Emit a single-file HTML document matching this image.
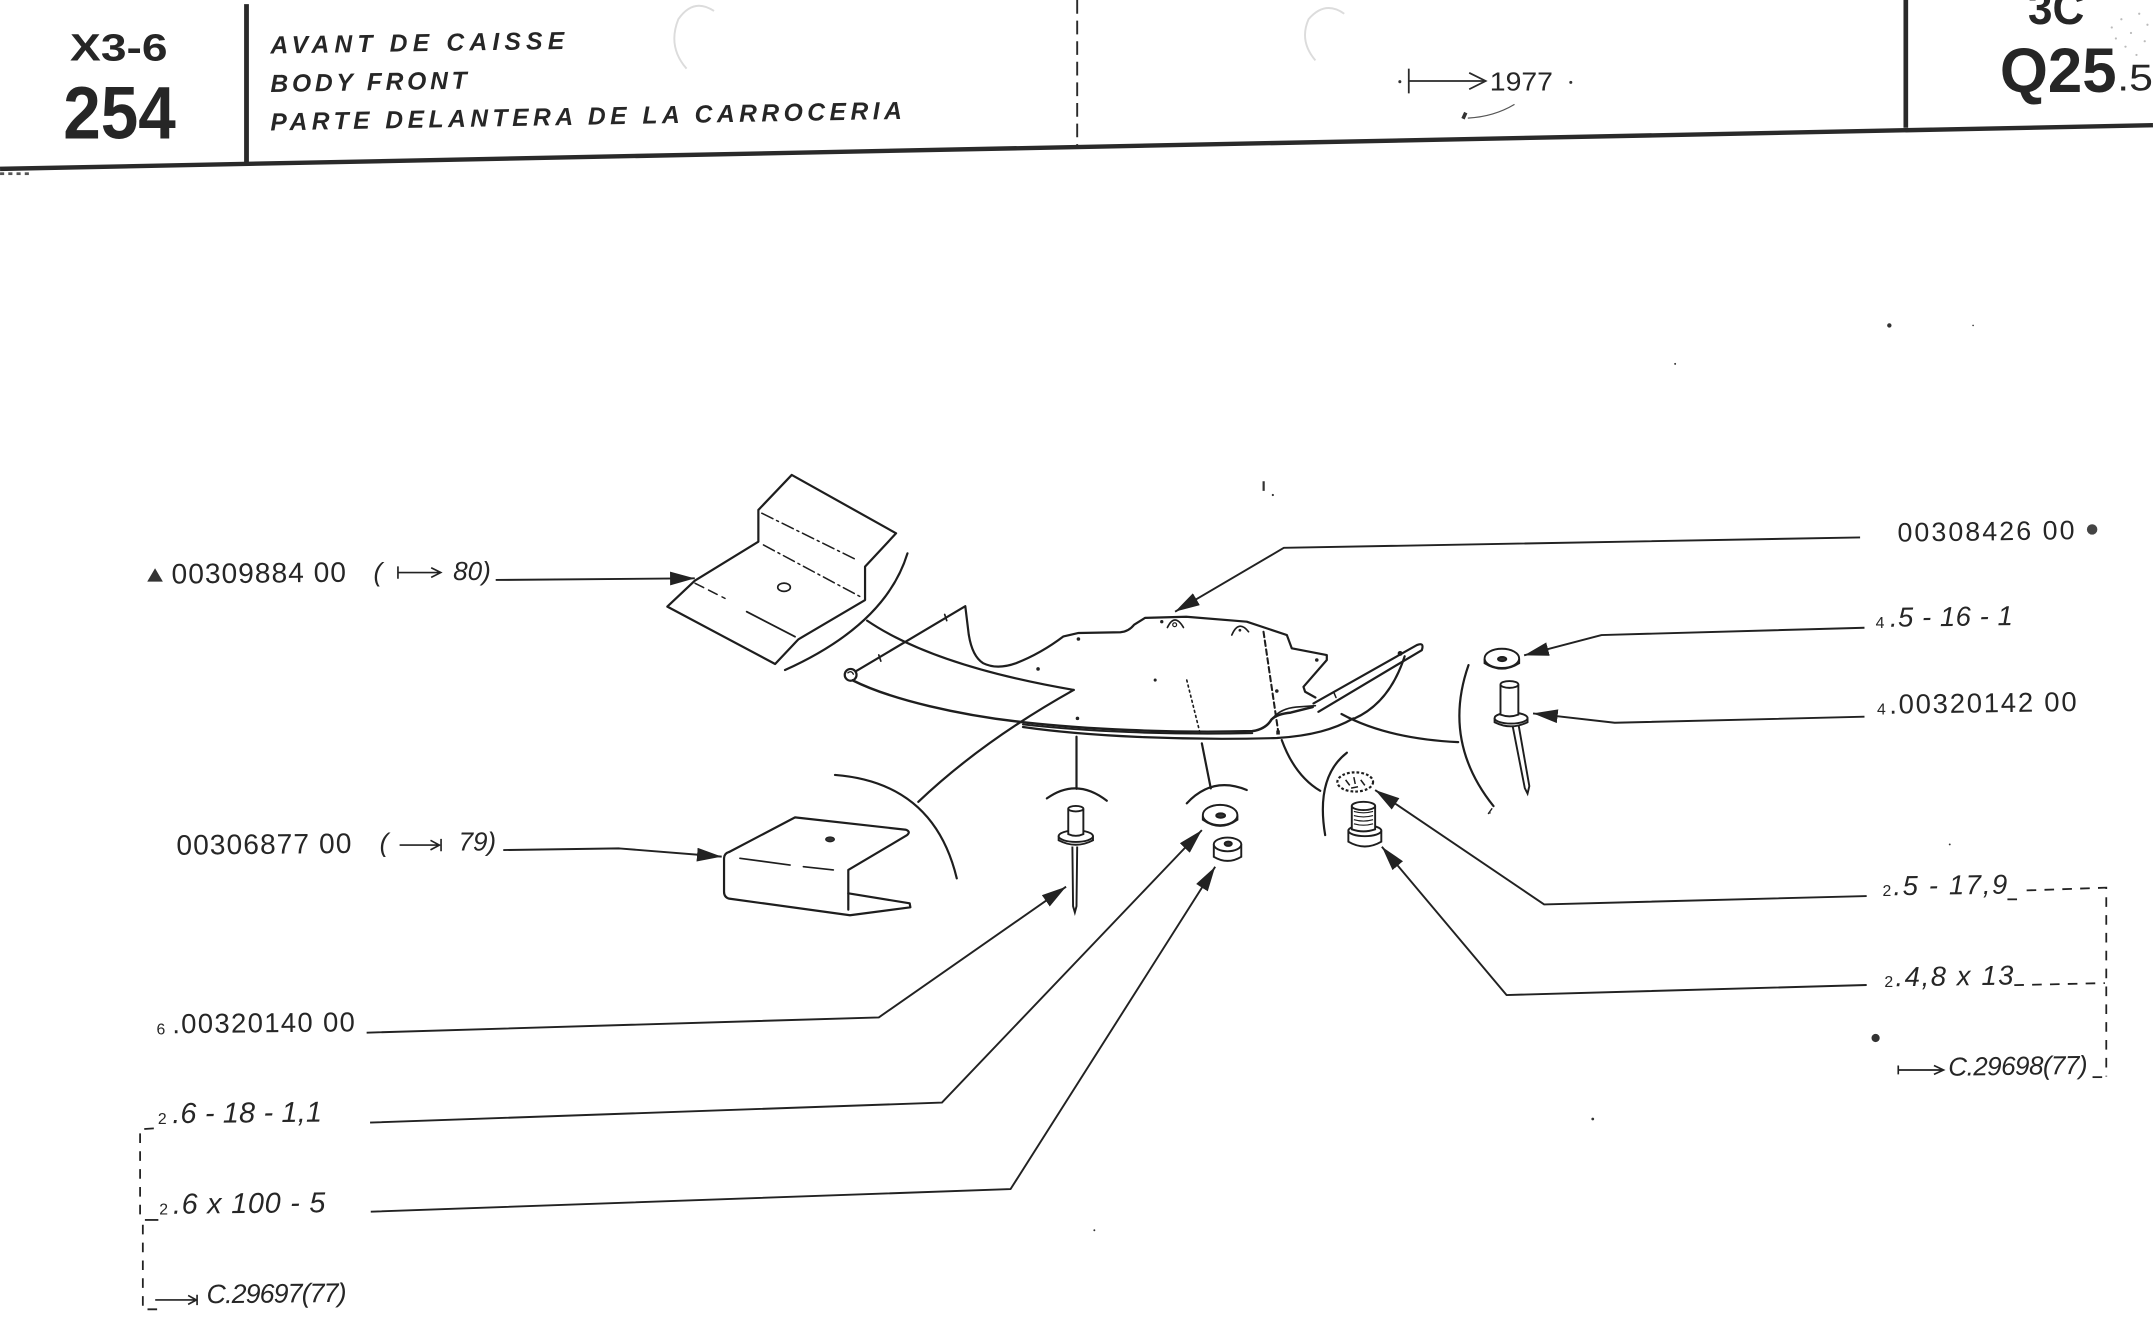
<!DOCTYPE html>
<html>
<head>
<meta charset="utf-8">
<style>
  html,body{margin:0;padding:0;background:#fff;}
  svg{display:block;}
  text{font-family:"Liberation Sans",Arial,sans-serif;fill:#262626;}
</style>
</head>
<body>
<svg xmlns="http://www.w3.org/2000/svg" width="2153" height="1335" viewBox="0 0 1568 972.3">
<defs>
  <marker id="ah" viewBox="0 0 18 10" refX="18" refY="5" markerWidth="18" markerHeight="10" markerUnits="userSpaceOnUse" orient="auto">
    <path d="M0,0 L18,5 L0,10 Z" fill="#222"/>
  </marker>
</defs>
<rect x="0" y="0" width="1568" height="972.3" fill="#fff"/>

<!-- faint punch-hole rings -->
<path d="M520,8 Q505,-2 494,14 Q486,34 500,50" fill="none" stroke="#dcdcdc" stroke-width="1.4"/>
<path d="M979,10 Q965,0 953,14 Q946,30 958,44" fill="none" stroke="#dcdcdc" stroke-width="1.4"/>

<!-- ===== HEADER ===== -->
<g stroke="#2a2a2a" fill="none">
  <line x1="0" y1="123" x2="1568" y2="91.2" stroke-width="3.2"/>
  <line x1="179.5" y1="3" x2="179.5" y2="120" stroke-width="3.5"/>
  <line x1="784.5" y1="0" x2="784.5" y2="106" stroke-width="1.4" stroke-dasharray="10 5"/>
  <line x1="1388" y1="0" x2="1388" y2="93" stroke-width="3.4"/>
</g>
<g fill="#555">
  <rect x="0" y="125.5" width="3" height="2"/><rect x="6" y="125.5" width="3" height="2"/><rect x="12" y="125.5" width="3" height="2"/><rect x="18" y="125.5" width="3" height="2"/>
</g>

<text x="51" y="44" font-size="28" font-weight="bold" textLength="71" lengthAdjust="spacingAndGlyphs">X3-6</text>
<text x="46" y="101" font-size="54" font-weight="bold" textLength="82" lengthAdjust="spacingAndGlyphs">254</text>

<text x="197" y="39" font-size="18" font-weight="bold" font-style="italic" textLength="214" lengthAdjust="spacing" transform="rotate(-0.9 197 39)">AVANT DE CAISSE</text>
<text x="197" y="67" font-size="18" font-weight="bold" font-style="italic" textLength="143" lengthAdjust="spacing" transform="rotate(-1 197 67)">BODY FRONT</text>
<text x="197" y="95" font-size="18" font-weight="bold" font-style="italic" textLength="460" lengthAdjust="spacing" transform="rotate(-1.05 197 95)">PARTE DELANTERA DE LA CARROCERIA</text>

<!-- |--> 1977 -->
<circle cx="1019.5" cy="59.5" r="1.1" fill="#333"/>
<g stroke="#2a2a2a" fill="none" stroke-width="1.3">
  <line x1="1026" y1="50" x2="1026" y2="68"/>
  <line x1="1026" y1="59" x2="1081" y2="59"/>
  <path d="M1070,53 L1082,59 L1070,65"/>
</g>
<text x="1085" y="66" font-size="19" textLength="46" lengthAdjust="spacingAndGlyphs">1977</text>
<circle cx="1144" cy="60" r="1.1" fill="#333"/>
<path d="M1065.5,86.5 L1067.5,82" stroke="#333" stroke-width="2.6" fill="none"/>
<path d="M1069,86 Q1088,85 1103,76" stroke="#555" stroke-width="0.9" fill="none"/>

<text x="1477" y="17.5" font-size="34" font-weight="bold" textLength="41" lengthAdjust="spacingAndGlyphs">3C</text>
<text x="1456.5" y="67" font-size="46" font-weight="bold" textLength="85" lengthAdjust="spacingAndGlyphs">Q25</text>
<text x="1542" y="66" font-size="27" textLength="26" lengthAdjust="spacingAndGlyphs">.5</text>
<g fill="#bbb">
  <circle cx="1538" cy="20" r="0.8"/><circle cx="1545" cy="14" r="0.8"/><circle cx="1552" cy="24" r="0.8"/>
  <circle cx="1558" cy="10" r="0.8"/><circle cx="1562" cy="30" r="0.8"/><circle cx="1548" cy="34" r="0.8"/>
  <circle cx="1556" cy="40" r="0.8"/><circle cx="1541" cy="28" r="0.8"/><circle cx="1564" cy="18" r="0.8"/>
</g>

<!-- ===== DRAWING ===== -->
<g stroke="#1e1e1e" fill="none" stroke-width="1.6" stroke-linejoin="round" stroke-linecap="round">

  <!-- Upper bracket (00309884 00) -->
  <path d="M576.6,345.9 L652.6,388.4 L630,412.7 L630,437 L581.5,465.6 L564.5,483.6 L486,441.8 L506,422.9 L552.3,394.5 L552.3,371.4 Z" fill="#fff"/>
  <path d="M554.8,373.8 L624,407.8" stroke-width="1.1" stroke-dasharray="9 3 1.5 3"/>
  <path d="M556,396.9 L626.4,434.5" stroke-width="1.1" stroke-dasharray="9 3 1.5 3"/>
  <path d="M506.2,424.8 L528,435.8" stroke-width="1.1" stroke-dasharray="7 4"/>
  <path d="M543.8,445.5 L579,463.7" stroke-width="1.3"/>
  <ellipse cx="571" cy="427.7" rx="4.6" ry="3" stroke-width="1.2"/>

  <!-- arc 1 and connector -->
  <path d="M660.9,403 Q645,455 571.7,488"/>
  <path d="M631.5,452 Q680,485 782,502.5"/>
  <path d="M668.8,584 Q715,540 782,502.5"/>

  <!-- Lower bracket (00306877 00) -->
  <path d="M531,620.5 L579,595.3 L659.8,604.3 Q663.5,605.8 660.5,608.3 L617.8,633.6 L617.8,662.5" fill="#fff"/>
  <path d="M617.8,650.6 L662.5,657.9 L663,660.8 L619,666.6 L531,654.5 Q527.3,653.5 527.3,649.5 L527.3,625 Q527.5,621.5 531,620.5"/>
  <path d="M538.9,625.1 L575.4,630 M585.1,631.2 L606.9,633.6" stroke-width="1.2"/>
  <ellipse cx="604.5" cy="611.3" rx="3.2" ry="1.8" fill="#333" stroke-width="0.8"/>

  <!-- arc 2 -->
  <path d="M608.1,564.4 Q680,570 696.8,639.7"/>

  <!-- Main panel -->
  <circle cx="619.5" cy="491.5" r="4.3"/>
  <path d="M617.5,490 Q620,488 621.5,491" stroke-width="1"/>
  <path d="M624,488.5 L703,441.5 L705.5,462 Q708,478 716,483 Q726,488 740,483 Q758,476 774.5,463.5 L785.5,461 L816,460.5 Q822,460 826,455 L834,450 L864,449.2 L908,452.8 L937.2,462.5 L940.8,472.2 L966.3,477.1 L966.3,480.7 L949.3,500.2 L950.5,503.8 L958,508"/>
  <path d="M640,477 L641.5,481.5 M688,447.5 L689.5,452" stroke-width="1.2"/>
  <!-- lower lip -->
  <path d="M621,495.5 C650,510 700,521 745,526 C790,531 850,534 912,532.5 Q922,531 926,524 Q930,520 940,519 L956,515" stroke-width="1.8"/>
  <path d="M745,527.6 C790,532.6 850,535.4 912,534" stroke-width="1.4"/>
  <!-- outer bottom curve -->
  <path d="M745,529.5 C790,536 860,539.5 930,537.5 C955,536 972,531 985.7,523.2"/>
  <!-- rod -->
  <path d="M956.6,512.3 L1031.9,469.8 Q1037.5,467.5 1035.5,473.5 L960.2,518.4"/>
  <path d="M927,523 Q933,516 944,515 L958,514" stroke-width="1.2"/>
  <path d="M971.5,504.5 L973,508" stroke-width="1.1"/>
  <circle cx="1019.7" cy="475.9" r="1" fill="#222"/>
  <path d="M1023,478 Q1012,512 986,523.5"/>
  <path d="M977,520 Q1010,538 1062,540.5"/>
  <!-- hidden lines -->
  <path d="M920.2,460.1 L931.1,534.1" stroke-width="1.5" stroke-dasharray="4 2.5"/>
  <path d="M864.3,495.3 L874,534.1" stroke-width="1.2" stroke-dasharray="1.4 2.4"/>
  <!-- ear marks -->
  <path d="M850.2,457 Q855.5,446 861.9,457" stroke-width="1.2"/>
  <circle cx="855.5" cy="455" r="1.4" stroke-width="0.9"/>
  <path d="M897.1,462.5 Q902,451 909.3,460.1" stroke-width="1.2"/>
</g>
<g fill="#222">
  <circle cx="846.1" cy="452.8" r="1.2"/>
  <circle cx="903" cy="459" r="1"/>
  <circle cx="785.4" cy="465.4" r="1.3"/>
  <circle cx="756" cy="487.2" r="1.3"/>
  <circle cx="784.7" cy="523.2" r="1.3"/>
  <circle cx="841.3" cy="495.3" r="1.1"/>
  <circle cx="929.9" cy="503.3" r="1.3"/>
  <circle cx="959" cy="480.7" r="1.3"/>
  <rect x="929.5" y="532" width="2.6" height="3"/>
</g>

<!-- fastener arcs -->
<g stroke="#1e1e1e" fill="none" stroke-width="1.6" stroke-linecap="round">
  <path d="M784,536.6 L784,574.5"/>
  <path d="M762.4,581.5 Q784,566 806.1,583.2"/>
  <path d="M875.3,541.4 L881.8,574.2"/>
  <path d="M864.3,585.1 Q883,565 908,575.4"/>
  <path d="M933.5,539 Q943,565 961.5,576"/>
  <path d="M980.9,548.2 Q958,566 965.1,608.2"/>
  <path d="M1069.5,484.4 Q1050,540 1087.7,587.1"/>
  <path d="M1084,592.5 L1086.5,589" stroke-width="1"/>
</g>

<!-- Rivet 1 -->
<g stroke="#1e1e1e" stroke-width="1.4" fill="#fff">
  <path d="M771,609 L771,612 Q783.5,618.5 796,612 L796,609"/>
  <ellipse cx="783.5" cy="609" rx="12.5" ry="4.2"/>
  <path d="M778,589 L778,607.5 Q783.5,610 789,607.5 L789,589"/>
  <ellipse cx="783.5" cy="589" rx="5.5" ry="2"/>
  <path d="M781,616.5 L781.5,660 L782.8,664.5 L784,660 L784.5,616.5" fill="none"/>
</g>
<!-- Washer -->
<g stroke="#1e1e1e" stroke-width="1.4" fill="#fff">
  <path d="M876,594 L876,597 Q888.6,606 901.2,597 L901.2,594"/>
  <ellipse cx="888.6" cy="593.6" rx="12.6" ry="7.4"/>
  <ellipse cx="889" cy="594" rx="3.2" ry="1.6" fill="#333"/>
</g>
<!-- Nut -->
<g stroke="#1e1e1e" stroke-width="1.4" fill="#fff">
  <path d="M884,615 L884,624 Q894,630 904,624 L904,615"/>
  <ellipse cx="894" cy="615" rx="10" ry="5"/>
  <ellipse cx="894.5" cy="614.5" rx="2.6" ry="1.6" fill="#333"/>
</g>
<!-- Star washer -->
<g stroke="#1e1e1e" fill="none">
  <ellipse cx="987" cy="569.5" rx="13" ry="7" stroke-width="1.6" stroke-dasharray="2 1.5"/>
  <path d="M980,568 L983,572 M986,566 L987,571 M991,568 L994,572 M984,574 L989,573" stroke-width="1.1"/>
</g>
<!-- Screw -->
<g stroke="#1e1e1e" stroke-width="1.4" fill="#fff">
  <path d="M982,605 L982,613 Q994,620 1006,613 L1006,605"/>
  <ellipse cx="994" cy="605" rx="12" ry="4"/>
  <path d="M984.5,587 L984.5,604 Q993,607 1001.5,604 L1001.5,587"/>
  <ellipse cx="993" cy="587" rx="8.5" ry="3"/>
  <path d="M986,591 Q993,593 1000,591 M986,594 Q993,596 1000,594 M986,597 Q993,599 1000,597 M986,600 Q993,602 1000,600" fill="none" stroke-width="0.8"/>
</g>

<!-- Right washer + rivet -->
<g stroke="#1e1e1e" stroke-width="1.4" fill="#fff">
  <path d="M1081.2,480 L1081.2,483 Q1093.8,491 1106.4,483 L1106.4,480"/>
  <ellipse cx="1093.8" cy="479.5" rx="12.6" ry="7"/>
  <ellipse cx="1094" cy="480" rx="3" ry="1.5" fill="#333"/>
  <path d="M1101.5,528 L1110.5,574 L1112.5,578 L1113.8,572.5 L1105.8,527" fill="none"/>
  <path d="M1088.5,523 L1088.5,526 Q1100.5,532 1112.5,526 L1112.5,523"/>
  <ellipse cx="1100.5" cy="523" rx="12" ry="4"/>
  <path d="M1092.8,498.5 L1092.8,520.5 Q1099.3,523 1105.8,520.5 L1105.8,498.5"/>
  <ellipse cx="1099.3" cy="498.5" rx="6.5" ry="2.5"/>
</g>

<!-- ===== LEADERS ===== -->
<g stroke="#222" fill="none" stroke-width="1.4" stroke-linejoin="round">
  <path d="M361,422.4 L506,421.2" marker-end="url(#ah)"/>
  <path d="M366.5,619.1 L451,617.9 L525.6,623.9" marker-end="url(#ah)"/>
  <path d="M267,752.1 L640,741 L776.4,645.8" marker-end="url(#ah)"/>
  <path d="M269.5,817.6 L686,803 L875.3,604.6" marker-end="url(#ah)"/>
  <path d="M270,882.5 L736,866 L885,631.3" marker-end="url(#ah)"/>
  <path d="M1354.7,391.4 L935,399 L855.8,445.5" marker-end="url(#ah)"/>
  <path d="M1357.9,457.2 L1166.4,462.5 L1110,477.3" marker-end="url(#ah)"/>
  <path d="M1357.9,522 L1176,526.4 L1116.5,519.6" marker-end="url(#ah)"/>
  <path d="M1359.5,652.6 L1124.6,658.7 L1001.5,575.4" marker-end="url(#ah)"/>
  <path d="M1359.5,717.4 L1097.2,724.7 L1006.4,616.7" marker-end="url(#ah)"/>
</g>

<!-- dashed brackets -->
<g stroke="#222" fill="none" stroke-width="1.3">
  <path d="M112,821.8 L102,822.5 L102,886" stroke-dasharray="7 6"/>
  <path d="M105.5,888.5 L115.3,888.5"/>
  <path d="M104,892 L104,953.6 L116.6,953.6" stroke-dasharray="7 6"/>
  <path d="M1462,655 L1469,655"/>
  <path d="M1476,648.5 L1534,646.5 L1534,784" stroke-dasharray="7 6"/>
  <path d="M1467,717.5 L1533,716" stroke-dasharray="7 6"/>
  <path d="M1524,784.5 L1531,784.5"/>
</g>

<!-- ===== LABELS ===== -->
<polygon points="107.2,423.6 118.6,423.6 112.9,413.9" fill="#333"/>
<text x="125" y="425" font-size="20.5" textLength="127" lengthAdjust="spacing" transform="rotate(-0.6 125 425)">00309884 00</text>
<text x="272" y="423" font-size="19" font-style="italic">(</text>
<g stroke="#222" fill="none" stroke-width="1.2">
  <path d="M289.8,412.5 L289.8,421.5 M289.8,417 L320.5,417 M314,413.5 L321,417 L314,420.5"/>
</g>
<text x="330" y="422.4" font-size="19" font-style="italic" textLength="27.4" lengthAdjust="spacing">80)</text>

<text x="128.5" y="622.5" font-size="20.5" textLength="127.5" lengthAdjust="spacing" transform="rotate(-0.6 128.5 622.5)">00306877 00</text>
<text x="276.5" y="620" font-size="19" font-style="italic">(</text>
<g stroke="#222" fill="none" stroke-width="1.2">
  <path d="M291,615.5 L320,615.5 M313.5,612 L320,615.5 L313.5,619 M321.2,611 L321.2,620"/>
</g>
<text x="334" y="619.5" font-size="19" font-style="italic" textLength="27.3" lengthAdjust="spacing">79)</text>

<text x="114" y="753.5" font-size="11.5">6</text>
<text x="125.5" y="752.5" font-size="20" textLength="133" lengthAdjust="spacing" transform="rotate(-0.6 125.5 752.5)">.00320140 00</text>

<text x="115" y="818.5" font-size="11.5">2</text>
<text x="125.5" y="818" font-size="21" font-style="italic" textLength="109" lengthAdjust="spacing" transform="rotate(-0.6 125.5 818)">.6 - 18 - 1,1</text>

<text x="116" y="884.5" font-size="11.5">2</text>
<text x="126" y="884" font-size="21" font-style="italic" textLength="111" lengthAdjust="spacing" transform="rotate(-0.6 126 884)">.6 x 100 - 5</text>

<g stroke="#222" fill="none" stroke-width="1.2">
  <path d="M113,946.8 L143,946.8 M137,943.5 L143,946.8 L137,950 M143.5,943 L143.5,950.5"/>
</g>
<text x="150.5" y="949.2" font-size="19.5" font-style="italic" textLength="102" lengthAdjust="spacing" transform="rotate(-0.6 150.5 949.2)">C.29697(77)</text>

<text x="1382" y="394.5" font-size="19.5" textLength="129" lengthAdjust="spacing" transform="rotate(-0.8 1382 394.5)">00308426 00</text>
<circle cx="1523.7" cy="385.6" r="3.8" fill="#444"/>

<text x="1366" y="457.5" font-size="11.5">4</text>
<text x="1376.5" y="456.5" font-size="20" font-style="italic" textLength="89.5" lengthAdjust="spacing" transform="rotate(-0.8 1376.5 456.5)">.5 - 16 - 1</text>

<text x="1367" y="520.5" font-size="11.5">4</text>
<text x="1376" y="519.8" font-size="20" textLength="136.5" lengthAdjust="spacing" transform="rotate(-0.8 1376 519.8)">.00320142 00</text>

<text x="1371" y="652.5" font-size="11.5">2</text>
<text x="1379" y="652" font-size="20" font-style="italic" textLength="83" lengthAdjust="spacing" transform="rotate(-0.8 1379 652)">.5 - 17,9</text>

<text x="1372.4" y="719" font-size="11.5">2</text>
<text x="1380.5" y="718.3" font-size="20" font-style="italic" textLength="86" lengthAdjust="spacing" transform="rotate(-0.8 1380.5 718.3)">.4,8 x 13</text>

<g stroke="#222" fill="none" stroke-width="1.2">
  <path d="M1382.5,776 L1382.5,782.5 M1382.5,779.3 L1415,779.3 M1408.5,776 L1415.5,779.3 L1408.5,782.5"/>
</g>
<text x="1419" y="783.5" font-size="19" font-style="italic" textLength="101.5" lengthAdjust="spacing" transform="rotate(-0.8 1419 783.5)">C.29698(77)</text>

<!-- scan noise marks -->
<g fill="#333">
  <circle cx="1366" cy="756" r="3"/>
  <rect x="919.5" y="350.5" width="1.6" height="7"/>
  <circle cx="927" cy="360.5" r="0.8"/>
  <circle cx="1376" cy="237" r="1.6"/>
  <circle cx="1160" cy="815" r="1"/>
  <circle cx="1220" cy="265" r="0.7"/>
  <circle cx="1437" cy="237" r="0.6"/>
  <circle cx="797" cy="896" r="0.7"/>
  <circle cx="1420" cy="615" r="0.7"/>
  <circle cx="1085" cy="592" r="0.7"/>
</g>
</svg>
</body>
</html>
